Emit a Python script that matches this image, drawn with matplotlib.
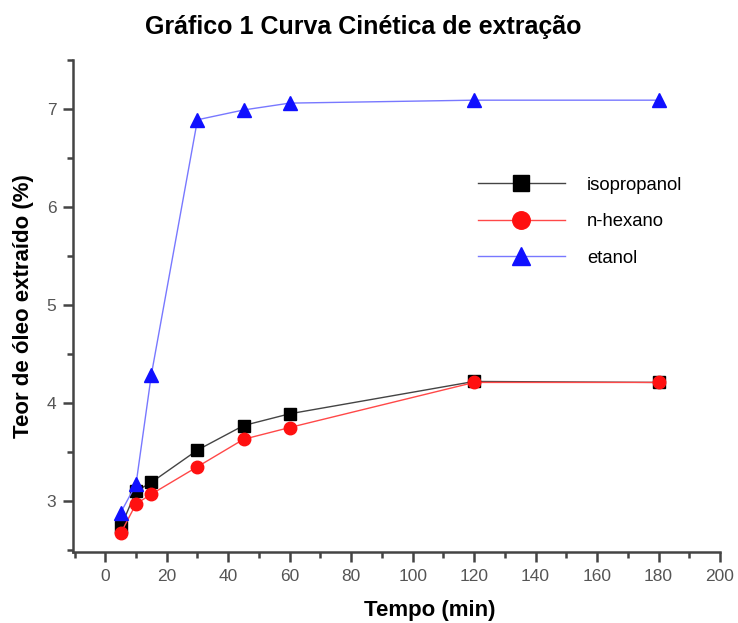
import matplotlib
matplotlib.use('Agg')
import matplotlib.pyplot as plt
from matplotlib.ticker import MultipleLocator

plt.rcParams['font.family'] = ['Liberation Sans', 'DejaVu Sans']

# extraction time (min) and oil content (%) for each solvent
tempo = [5, 10, 15, 30, 45, 60, 120, 180]
isopropanol = [2.73, 3.10, 3.19, 3.52, 3.77, 3.89, 4.22, 4.21]
n_hexano = [2.67, 2.97, 3.07, 3.35, 3.63, 3.75, 4.21, 4.21]
etanol = [2.88, 3.17, 4.29, 6.89, 6.99, 7.06, 7.09, 7.09]

fig = plt.figure(figsize=(7.38, 6.23), dpi=100)
ax = fig.add_axes([0.0989, 0.114, 0.8767, 0.7897])

ax.plot(tempo, isopropanol, color='#444444', linewidth=1.0, marker='s',
        markersize=8.5, markerfacecolor='black', markeredgecolor='black',
        label='isopropanol')
ax.plot(tempo, n_hexano, color='#ff4848', linewidth=1.0, marker='o',
        markersize=9, markerfacecolor='#ff1010', markeredgecolor='#ff1010',
        label='n-hexano')
ax.plot(tempo, etanol, color='#7878ff', linewidth=1.0, marker='^',
        markersize=9.5, markerfacecolor='#1010ff', markeredgecolor='#1010ff',
        label='etanol')

ax.set_xlim(-10.5, 200)
ax.set_ylim(2.48, 7.5)
ax.xaxis.set_major_locator(MultipleLocator(20))
ax.xaxis.set_minor_locator(MultipleLocator(10))
ax.yaxis.set_minor_locator(MultipleLocator(0.5))
ax.set_yticks([3, 4, 5, 6, 7])

for side in ['top', 'right']:
    ax.spines[side].set_visible(False)
for side in ['left', 'bottom']:
    ax.spines[side].set_linewidth(1.8)
    ax.spines[side].set_color('#444444')

ax.tick_params(which='major', direction='out', length=7, width=1.8,
               colors='#444444', labelsize=12.5, labelcolor='#555555', pad=5)
ax.tick_params(which='minor', direction='out', length=4, width=1.8,
               colors='#444444')

ax.set_xlabel('Tempo (min)', fontsize=16, fontweight='bold')
ax.xaxis.set_label_coords(0.552, -0.097)
ax.set_ylabel('Teor de óleo extraído (%)', fontsize=16, fontweight='bold',
              labelpad=9)

fig.text(0.492, 0.956, 'Gráfico 1 Curva Cinética de extração', ha='center',
         va='center', fontsize=18, fontweight='bold')

ax.legend(loc='upper left', bbox_to_anchor=(0.625, 0.743),
          bbox_transform=fig.transFigure, frameon=False, fontsize=13.3,
          handlelength=4.7, handletextpad=1.2, labelspacing=1.05,
          markerscale=1.4)

fig.savefig('out.png', dpi=100)
plt.close(fig)
